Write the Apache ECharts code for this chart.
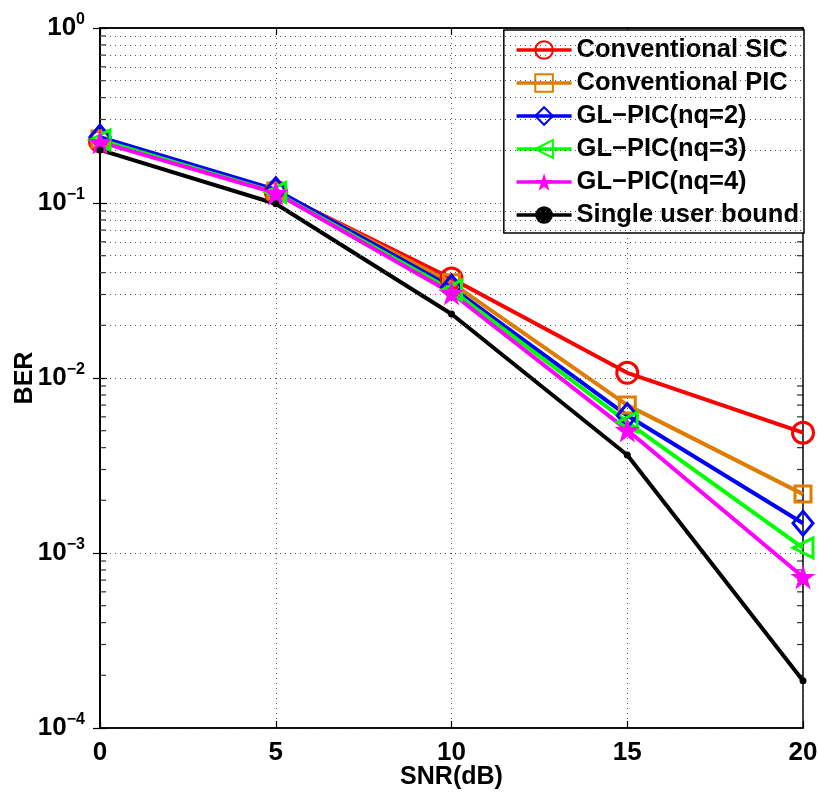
<!DOCTYPE html>
<html><head><meta charset="utf-8">
<script src="https://cdn.jsdelivr.net/npm/echarts@6/dist/echarts.min.js"></script>
<style>html,body{margin:0;padding:0;background:#fff}#c{width:819px;height:792px}</style>
</head><body><div id="c"></div>
<script>
const snr = [0, 5, 10, 15, 20];
const sic   = [0.225, 0.116, 0.037, 0.0107, 0.00487];
const pic   = [0.232, 0.117, 0.035, 0.0070, 0.00217];
const gl2   = [0.238, 0.119, 0.033, 0.0061, 0.00148];
const gl3   = [0.229, 0.115, 0.0318, 0.0056, 0.00107];
const gl4   = [0.223, 0.114, 0.0306, 0.00504, 0.00073];
const bound = [0.201, 0.099, 0.0232, 0.00363, 0.000186];
const names = ['Conventional SIC','Conventional PIC','GL\u2212PIC(nq=2)','GL\u2212PIC(nq=3)','GL\u2212PIC(nq=4)','Single user bound'];
const xTicks = [0, 5, 10, 15, 20];
const yExp = {1: '0', 0.1: '\u22121', 0.01: '\u22122', 0.001: '\u22123', 0.0001: '\u22124'};
const minorVals = [2e-4,3e-4,4e-4,5e-4,6e-4,7e-4,8e-4,9e-4,
  2e-3,3e-3,4e-3,5e-3,6e-3,7e-3,8e-3,9e-3,
  2e-2,3e-2,4e-2,5e-2,6e-2,7e-2,8e-2,9e-2,
  0.2,0.3,0.4,0.5,0.6,0.7,0.8,0.9];

const FONT = '"Liberation Sans", Arial, sans-serif';
const dotted = {color: '#555', width: 1, type: [1, 4]};
const star = 'path://M0,-1 L0.2245,-0.309 L0.951,-0.309 L0.363,0.118 L0.588,0.809 L0,0.382 L-0.588,0.809 L-0.363,0.118 L-0.951,-0.309 L-0.2245,-0.309 Z';
const diamond = 'path://M0,-1 L0.8,0 L0,1 L-0.8,0 Z';

function mk(name, data, color, symbol, size, extra) {
  const hollow = extra && extra.hollow;
  return Object.assign({
    name, type: 'line', data: snr.map((x, i) => [x, data[i]]),
    color,
    symbol, symbolSize: size,
    lineStyle: {color, width: 4},
    itemStyle: hollow ? {color: 'rgba(0,0,0,0)', borderColor: color, borderWidth: 3} : {color, borderColor: color, borderWidth: 0},
    emphasis: {disabled: true},
    z: 3
  }, extra && extra.opts || {});
}

const series = [
  mk(names[0], sic, '#FF0000', 'circle', 21, {hollow: true}),
  mk(names[1], pic, '#DE7D00', 'rect', 16, {hollow: true}),
  mk(names[2], gl2, '#0000FF', diamond, [20, 24], {hollow: true}),
  mk(names[3], gl3, '#00FF00', 'triangle', [20, 20], {hollow: true, opts: {symbolRotate: 90}}),
  mk(names[4], gl4, '#FF00FF', star, 25, {}),
  mk(names[5], bound, '#000000', 'circle', 7, {}),
  {
    type: 'scatter', silent: true, z: 1,
    data: minorVals.map(v => [0, v]),
    symbol: 'rect', symbolSize: [6, 1.2], symbolOffset: [3, 0],
    itemStyle: {color: '#000'},
    markLine: {silent: true, symbol: 'none', label: {show: false},
      lineStyle: dotted, emphasis: {disabled: true},
      data: minorVals.map(v => ({yAxis: v}))}
  },
  {
    type: 'scatter', silent: true, z: 1,
    data: minorVals.map(v => [20, v]),
    symbol: 'rect', symbolSize: [6, 1.2], symbolOffset: [-3, 0],
    itemStyle: {color: '#000'}
  }
];

const axisCommon = {
  axisLine: {show: true, lineStyle: {color: '#000', width: 1.5}},
  axisTick: {show: true, inside: true, length: 7, lineStyle: {color: '#000', width: 1.2}},
};

const chart = echarts.init(document.getElementById('c'), null, {renderer: 'canvas'});
chart.setOption({
  animation: false,
  backgroundColor: '#fff',
  grid: {left: 100, right: 16, top: 28, bottom: 64, show: true, borderColor: '#000', borderWidth: 1.5,
    containLabel: false, outerBoundsMode: 'none'},
  legend: {
    data: names, orient: 'vertical', right: 15, top: 30,
    backgroundColor: '#fff', borderColor: '#000', borderWidth: 1.5,
    padding: [7, 5, 5, 11], itemGap: 7, itemWidth: 55, itemHeight: 22,
    lineStyle: {width: 3.5},
    textStyle: {fontFamily: FONT, fontWeight: 'bold', fontSize: 25.5, color: '#000', lineHeight: 25.6},
    selectedMode: false
  },
  xAxis: [Object.assign({
    type: 'value', min: 0, max: 20, interval: 5,
    name: 'SNR(dB)', nameLocation: 'middle', nameGap: 37, nameMoveOverlap: false,
    nameTextStyle: {fontFamily: FONT, fontWeight: 'bold', fontSize: 25, color: '#000'},
    axisLabel: {fontFamily: FONT, fontWeight: 'bold', fontSize: 26, color: '#000', margin: 12},
    splitLine: {show: true, lineStyle: dotted}
  }, axisCommon), Object.assign({
    type: 'value', min: 0, max: 20, interval: 5, position: 'top',
    axisLabel: {show: false}, splitLine: {show: false}
  }, axisCommon)],
  yAxis: [Object.assign({
    type: 'log', logBase: 10, min: 1e-4, max: 1,
    name: 'BER', nameLocation: 'middle', nameGap: 62, nameMoveOverlap: false,
    nameTextStyle: {fontFamily: FONT, fontWeight: 'bold', fontSize: 25, color: '#000'},
    axisLabel: {
      margin: 15,
      formatter: v => '{b|10}{s|' + (yExp[v] !== undefined ? yExp[v] : '') + '}',
      rich: {
        b: {fontFamily: FONT, fontWeight: 'bold', fontSize: 26, color: '#000', verticalAlign: 'middle'},
        s: {fontFamily: FONT, fontWeight: 'bold', fontSize: 16, color: '#000', verticalAlign: 'bottom', padding: [0, 0, 16, 0]}
      }
    },
    splitLine: {show: true, lineStyle: dotted}
  }, axisCommon), Object.assign({
    type: 'log', logBase: 10, min: 1e-4, max: 1, position: 'right',
    axisLabel: {show: false}, splitLine: {show: false}
  }, axisCommon)],
  series
});
</script></body></html>
